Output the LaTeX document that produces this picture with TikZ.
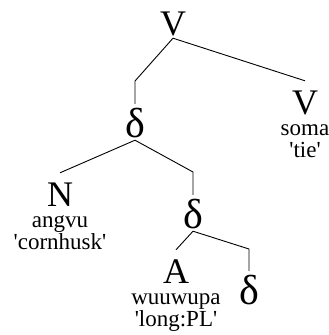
\documentclass[tikz,border=0pt]{standalone}
\usepackage{fontspec}
\setmainfont{Liberation Serif}
\usepackage{tikz}
\usetikzlibrary{positioning}

\newcommand{\q}{\textquotesingle}

\begin{document}
\begin{tikzpicture}[x=1pt,y=-1pt,
    cat/.style={inner sep=0pt, text height=33pt, text depth=3pt, font=\fontsize{36}{36}\selectfont},
    dlt/.style={cat, font=\fontsize{42}{42}\selectfont},
    gloss/.style={inner sep=0pt, text height=18pt, text depth=4pt, font=\fontsize{23}{23}\selectfont},
    branch/.style={line width=0.9pt}]
\useasboundingbox (0,0) rectangle (329,335);
% Draw categories
\node[cat, anchor=base] (vroot) at (173,35) {V};
\node[cat, anchor=base] (vsoma) at (305,114) {V};
\node[dlt, anchor=base] (dtop) at (135,137) {δ};
\node[cat, anchor=base] (nang) at (60,206) {N};
\node[dlt, anchor=base] (dmid) at (193,228) {δ};
\node[cat, anchor=base] (along) at (176,283) {A};
\node[dlt, anchor=base] (dlow) at (249,304) {δ};
% Draw glosses
\node[gloss, below=0pt of vsoma] (soma) {soma};
\node[gloss, below=0pt of soma] (tie) {\q tie\q};
\node[gloss, below=0pt of nang] (angvu) {angvu};
\node[gloss, below=0pt of angvu] (corn) {\q cornhusk\q};
\node[gloss, below=0pt of along] (wuu) {wuuwupa};
\node[gloss, below=0pt of wuu] (longpl) {\q long:PL\q};
% Draw branches
\coordinate (e1) at (135,81);
\coordinate (e2) at (193,172);
\coordinate (e3) at (249,249);
\draw[branch] (vroot.south) -- (e1) -- (dtop.north);
\draw[branch] (vroot.south) -- (vsoma.north);
\draw[branch] (dtop.south) -- (nang.north);
\draw[branch] (dtop.south) -- (e2) -- (dmid.north);
\draw[branch] (dmid.south) -- (along.north);
\draw[branch] (dmid.south) -- (e3) -- (dlow.north);
\end{tikzpicture}
\end{document}
